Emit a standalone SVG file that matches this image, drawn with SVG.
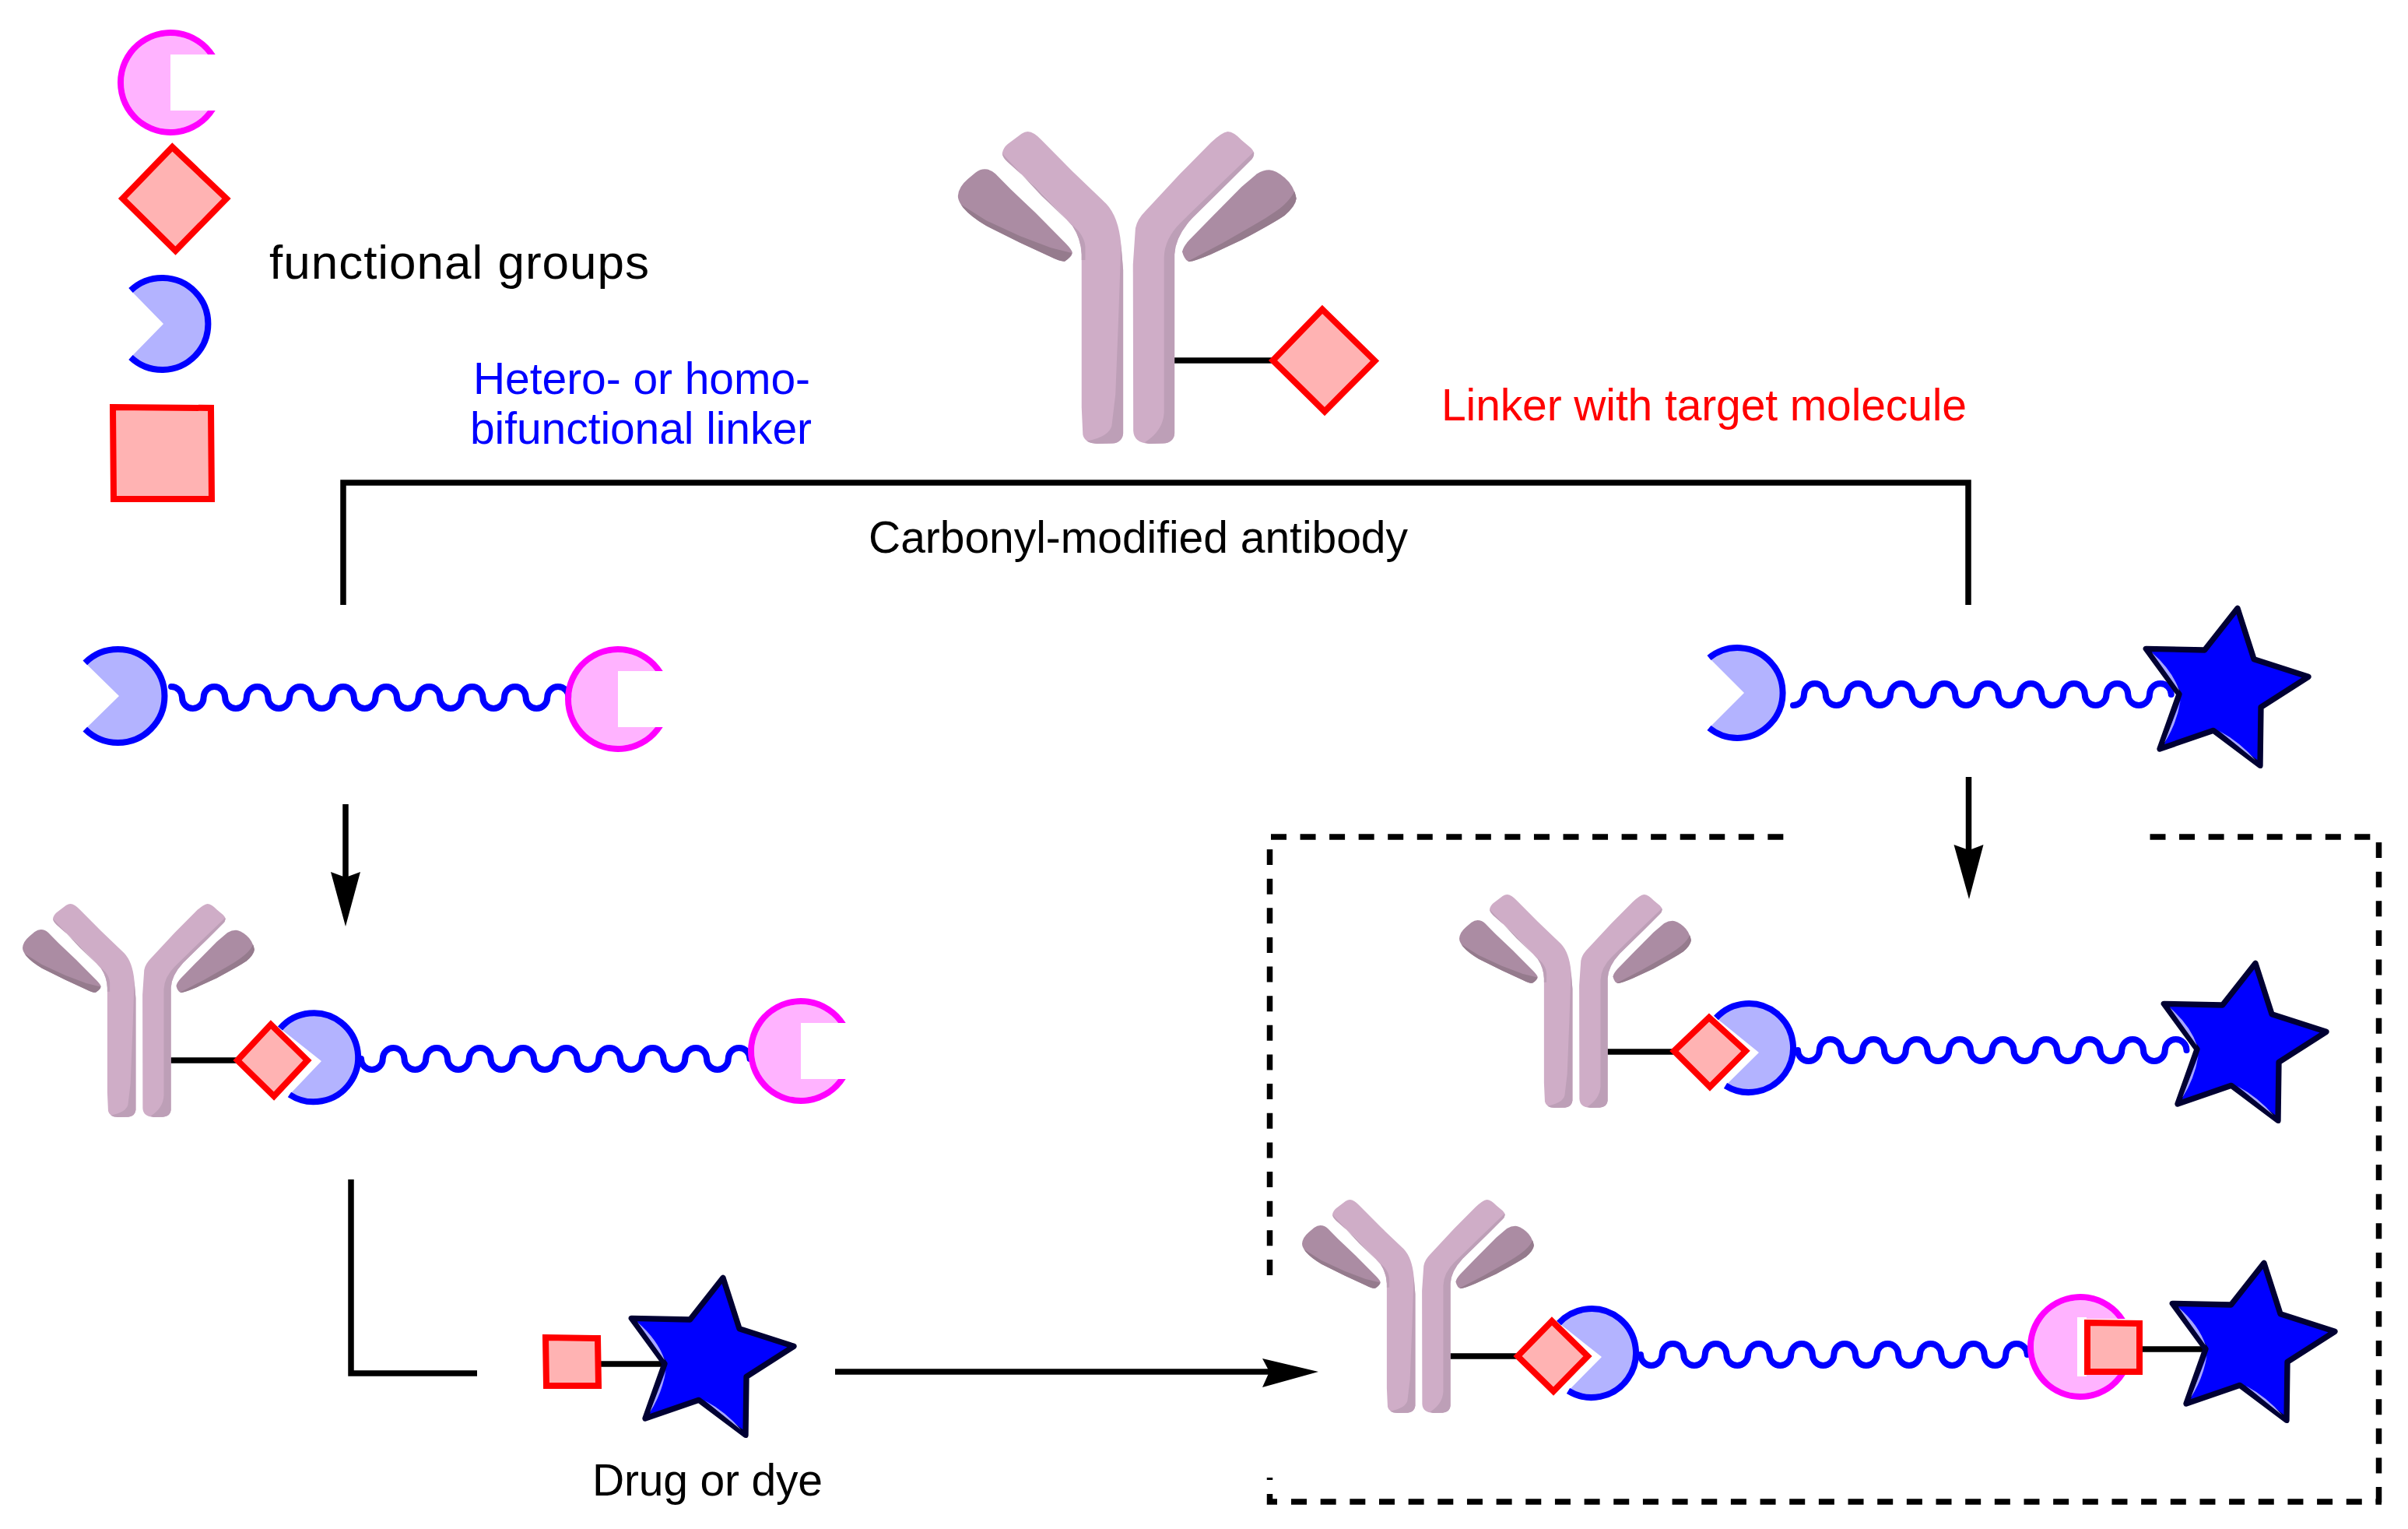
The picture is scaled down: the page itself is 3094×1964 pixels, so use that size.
<svg xmlns="http://www.w3.org/2000/svg" width="3094" height="1964" viewBox="0 0 3094 1964">
<style>
text{font-family:"Liberation Sans",Arial,sans-serif;font-size:57px;fill:#000}
.line{fill:none;stroke:#000;stroke-width:7.5}
.dash{fill:none;stroke:#000;stroke-width:7.5}
.wave{fill:none;stroke:#00f;stroke-width:8;stroke-linecap:round}
.tip{fill:#000}
.dia{fill:#ffb3b3;stroke:#f00;stroke-width:8}
.pf{fill:#b3b3ff}
.ps{fill:none;stroke:#00f;stroke-width:8}
.ab-a{fill:#cfadc7}.ab-b{fill:#bd9fb7}.ab-c{fill:#ab8ca3}.ab-d{fill:#957b8d}
</style>
<defs>
<g id="antibody">
<path class="ab-a" d="M305,87Q325,88 350,120L450,240L560,365Q600,415 608,520L615,620V1250Q612,1285 580,1289L530,1290Q490,1288 484,1255L480,1150V560Q478,500 450,450L330,300L240,205Q222,185 222,170Q225,150 240,135L285,95Q295,87 305,87Z"/>
<path class="ab-b" d="M222,172L350,335L470,470Q490,500 492,530V582H480V560Q478,500 450,450L330,300L240,205Q224,188 222,172Z"/>
<path class="ab-b" d="M608,520L600,800L590,1100L578,1220Q570,1262 497,1280Q510,1290 530,1290L580,1289Q612,1285 615,1250V620Z"/>
<path class="ab-a" d="M955,87Q975,88 1000,120L1030,150Q1042,165 1040,175Q1038,190 1030,197L960,280L840,420Q785,490 782,560V1250Q780,1285 745,1289L700,1290Q650,1288 648,1240L647,600L655,460Q660,425 690,390L800,250L900,130Q935,90 955,87Z"/>
<path class="ab-b" d="M1040,165L930,290L800,440Q750,500 748,570V1170Q745,1240 685,1285Q695,1290 700,1290L745,1289Q780,1285 782,1250V560Q785,490 840,420L960,280L1030,197Q1038,190 1040,175Z"/>
<path class="ab-c" d="M165,232Q185,232 200,250L250,310L330,400L430,520Q450,545 450,555Q448,570 425,587Q410,588 380,570L280,515L170,450Q120,415 95,380Q78,355 78,335Q80,300 110,270L135,245Q150,232 165,232Z"/>
<path class="ab-d" d="M88,368L170,430L280,490L380,535L448,555Q445,572 425,587Q410,588 380,570L280,515L170,450Q120,415 95,380Z"/>
<path class="ab-c" d="M1090,235Q1110,235 1140,265Q1170,295 1178,345Q1175,375 1140,410Q1110,435 1000,505L900,560Q850,585 830,588Q815,585 807,550Q810,530 830,505L900,420L1000,300L1050,250Q1070,235 1090,235Z"/>
<path class="ab-d" d="M1172,318Q1150,365 1110,395Q1080,420 1050,440L940,515L825,587Q828,588 830,588Q850,585 900,560L1000,505Q1110,435 1140,410Q1175,375 1178,345Q1176,330 1172,318Z"/>
</g>
<g id="star" transform="translate(2650,750) scale(.33333)">
<path d="M675,94L738,290L948,358L765,475L762,700L582,565L375,636L450,425L322,250L548,255Z" fill="#00f" stroke="#003" stroke-width="22" stroke-linejoin="round"/>
<path fill="#a6a6ff" d="M345,265Q425,335 450,412ZM455,450Q440,540 393,612ZM605,567Q685,610 745,680Z"/>
</g>
<g id="pink">
<path fill="#ffb3ff" d="M48,-36A60,60 0 1 0 48,36H0V-36Z"/>
<path fill="#f0f" d="M57.700,-36A68,68 0 1 0 57.700,36H48A60,60 0 1 1 48,-36Z"/>
</g>
</defs>
<rect width="3094" height="1964" fill="#fff"/>

<g id="connectors">
<path class="line" d="M441,777V620H2529V777"/>
<path class="line" d="M444,1033V1135"/><path class="tip" d="M444,1190L425,1120L444,1127L463,1120Z"/>
<path class="line" d="M2529.5,998V1095"/><path class="tip" d="M2530,1155L2510.500,1085L2530,1092L2548.500,1085Z"/>
<path class="line" d="M451,1515V1764H613"/>
<path class="line" d="M1073,1762H1640"/><path class="tip" d="M1694,1762L1622,1745L1631,1762L1622,1782Z"/>
<g id="dashed-box">
<path class="dash" stroke-dasharray="20 17.55" d="M1633,1075H2296"/>
<path class="dash" stroke-dasharray="20 17.55" d="M2762.5,1075H3048"/>
<path class="dash" stroke-dasharray="20 17.64" d="M1631.500,1091V1638"/>
<path class="dash" d="M1631.500,1898V1901M1631.500,1919V1929H1641"/>
<path class="dash" stroke-dasharray="20 17.66" d="M1659,1929H3060"/>
<path class="dash" stroke-dasharray="20 17.64" d="M3056.500,1082V1932"/>
</g>
<path class="line" stroke-linecap="round" d="M1507.500,463H1640"/>
<path class="line" stroke-linecap="round" d="M217,1362H305"/>
<path class="line" stroke-linecap="round" d="M2063,1351H2151"/>
<path class="line" stroke-linecap="round" d="M1862,1742H1950"/>
<path class="line" d="M772,1752H857"/>
<path class="line" d="M2753,1733H2840"/>
<path class="wave" d="M220,882a14,14 0 0 1 14,14a13.800,14 0 0 0 27.600,0a13.800,14 0 0 1 27.600,0a13.800,14 0 0 0 27.600,0a13.800,14 0 0 1 27.600,0a13.800,14 0 0 0 27.600,0a13.800,14 0 0 1 27.600,0a13.800,14 0 0 0 27.600,0a13.800,14 0 0 1 27.600,0a13.800,14 0 0 0 27.600,0a13.800,14 0 0 1 27.600,0a13.800,14 0 0 0 27.600,0a13.800,14 0 0 1 27.600,0a13.800,14 0 0 0 27.600,0a13.800,14 0 0 1 27.600,0a13.800,14 0 0 0 27.600,0a13.800,14 0 0 1 27.600,0a13.800,14 0 0 0 27.600,0a13.800,14 0 0 1 27.600,0"/>
<path class="wave" d="M2304,906a14,14 0 0 0 14,-14a13.875,14 0 0 1 27.750,0a13.875,14 0 0 0 27.750,0a13.875,14 0 0 1 27.750,0a13.875,14 0 0 0 27.750,0a13.875,14 0 0 1 27.750,0a13.875,14 0 0 0 27.750,0a13.875,14 0 0 1 27.750,0a13.875,14 0 0 0 27.750,0a13.875,14 0 0 1 27.750,0a13.875,14 0 0 0 27.750,0a13.875,14 0 0 1 27.750,0a13.875,14 0 0 0 27.750,0a13.875,14 0 0 1 27.750,0a13.875,14 0 0 0 27.750,0a13.875,14 0 0 1 27.750,0a13.875,14 0 0 0 27.750,0a13.875,14 0 0 1 27.750,0"/>
<path class="wave" d="M464,1360a13.875,14 0 0 0 27.750,0a13.875,14 0 0 1 27.750,0a13.875,14 0 0 0 27.750,0a13.875,14 0 0 1 27.750,0a13.875,14 0 0 0 27.750,0a13.875,14 0 0 1 27.750,0a13.875,14 0 0 0 27.750,0a13.875,14 0 0 1 27.750,0a13.875,14 0 0 0 27.750,0a13.875,14 0 0 1 27.750,0a13.875,14 0 0 0 27.750,0a13.875,14 0 0 1 27.750,0a13.875,14 0 0 0 27.750,0a13.875,14 0 0 1 27.750,0a13.875,14 0 0 0 27.750,0a13.875,14 0 0 1 27.750,0a13.875,14 0 0 0 27.750,0a13.875,14 0 0 1 27.750,0"/>
<path class="wave" d="M2310,1349a13.875,14 0 0 0 27.750,0a13.875,14 0 0 1 27.750,0a13.875,14 0 0 0 27.750,0a13.875,14 0 0 1 27.750,0a13.875,14 0 0 0 27.750,0a13.875,14 0 0 1 27.750,0a13.875,14 0 0 0 27.750,0a13.875,14 0 0 1 27.750,0a13.875,14 0 0 0 27.750,0a13.875,14 0 0 1 27.750,0a13.875,14 0 0 0 27.750,0a13.875,14 0 0 1 27.750,0a13.875,14 0 0 0 27.750,0a13.875,14 0 0 1 27.750,0a13.875,14 0 0 0 27.750,0a13.875,14 0 0 1 27.750,0a13.875,14 0 0 0 27.750,0a13.875,14 0 0 1 27.750,0"/>
<path class="wave" d="M2108,1740a13.800,14 0 0 0 27.600,0a13.800,14 0 0 1 27.600,0a13.800,14 0 0 0 27.600,0a13.800,14 0 0 1 27.600,0a13.800,14 0 0 0 27.600,0a13.800,14 0 0 1 27.600,0a13.800,14 0 0 0 27.600,0a13.800,14 0 0 1 27.600,0a13.800,14 0 0 0 27.600,0a13.800,14 0 0 1 27.600,0a13.800,14 0 0 0 27.600,0a13.800,14 0 0 1 27.600,0a13.800,14 0 0 0 27.600,0a13.800,14 0 0 1 27.600,0a13.800,14 0 0 0 27.600,0a13.800,14 0 0 1 27.600,0a13.800,14 0 0 0 27.600,0a13.800,14 0 0 1 27.600,0"/>
</g>

<g id="legend-pink"><use href="#pink" transform="translate(219,106)"/></g>
<g id="legend-diamond"><path class="dia" d="M157.500,255L221.400,189L291,255L225.500,322Z"/></g>
<g id="legend-blue"><path class="pf" d="M168,373A59,59 0 1 1 168,459L210,416Z"/><path class="ps" d="M168,373A59,59 0 1 1 168,459"/></g>
<g id="legend-square"><path class="dia" d="M145,523L271,524L272,641L146,641Z"/></g>

<g id="antibody-top"><use href="#antibody" transform="translate(1200,140) scale(.3953,.3333)"/>
<path class="dia" d="M1635.500,463L1699,397.500L1766.500,463.500L1702,528.500Z"/></g>

<g id="linker-left">
<path class="pf" d="M109.300,851.300A60,60 0 1 1 109.300,936.700L153,894Z"/><path class="ps" d="M109.300,851.300A60,60 0 1 1 109.300,936.700"/>
<use href="#pink" transform="translate(794,898)"/>
</g>
<g id="linker-right">
<path class="pf" d="M2196,845A58,58 0 1 1 2196,935L2241,890Z"/><path class="ps" d="M2196,845A58,58 0 1 1 2196,935"/>
<use href="#star"/>
</g>
<g id="conjugate-left">
<use href="#antibody" transform="translate(7.900,1141.200) scale(.2708,.2277)"/>
<path class="pf" d="M360,1321A57,57 0 1 1 372,1406L413,1363Z"/><path class="ps" d="M360,1321A57,57 0 1 1 372,1406"/>
<path class="dia" d="M305,1362L348,1316L395,1362L352,1408Z"/>
<use href="#pink" transform="translate(1029,1350)"/>
</g>
<g id="drug">
<path class="dia" d="M701,1718L768,1719L769,1780L702,1780Z"/>
<use href="#star" transform="translate(-1946,860)"/>
</g>
<g id="conjugate-right-top">
<use href="#antibody" transform="translate(1853.900,1129.200) scale(.2708,.2277)"/>
<path class="pf" d="M2205,1307.500A57,57 0 1 1 2217,1394.500L2260,1352Z"/><path class="ps" d="M2205,1307.500A57,57 0 1 1 2217,1394.500"/>
<path class="dia" d="M2151,1350L2196,1307L2243,1350L2197,1396Z"/>
<use href="#star" transform="translate(23,456)"/>
</g>
<g id="conjugate-right-bottom">
<use href="#antibody" transform="translate(1651.900,1521.200) scale(.2708,.2277)"/>
<path class="pf" d="M2003,1699.500A57,57 0 1 1 2015,1786.500L2058,1743Z"/><path class="ps" d="M2003,1699.500A57,57 0 1 1 2015,1786.500"/>
<path class="dia" d="M1950,1742L1994,1697L2040,1742L1996,1787Z"/>
<use href="#pink" transform="translate(2673,1730)"/>
<rect x="2669" y="1692" width="12" height="76" fill="#fff"/>
<path class="dia" d="M2682,1699L2749,1700V1762H2682Z"/>
<use href="#star" transform="translate(34,841)"/>
</g>

<g id="labels">
<text x="346" y="358" textLength="488" lengthAdjust="spacing" style="font-size:62px">functional groups</text>
<text x="608" y="506" textLength="433" lengthAdjust="spacing" style="fill:#00f">Hetero- or homo-</text>
<text x="604" y="570" textLength="439" lengthAdjust="spacing" style="fill:#00f">bifunctional linker</text>
<text x="1852" y="540" textLength="675" lengthAdjust="spacing" style="fill:#f00">Linker with target molecule</text>
<text x="1116" y="710" textLength="693" lengthAdjust="spacing">Carbonyl-modified antibody</text>
<text x="761" y="1921" textLength="296" lengthAdjust="spacing">Drug or dye</text>
</g>
</svg>
